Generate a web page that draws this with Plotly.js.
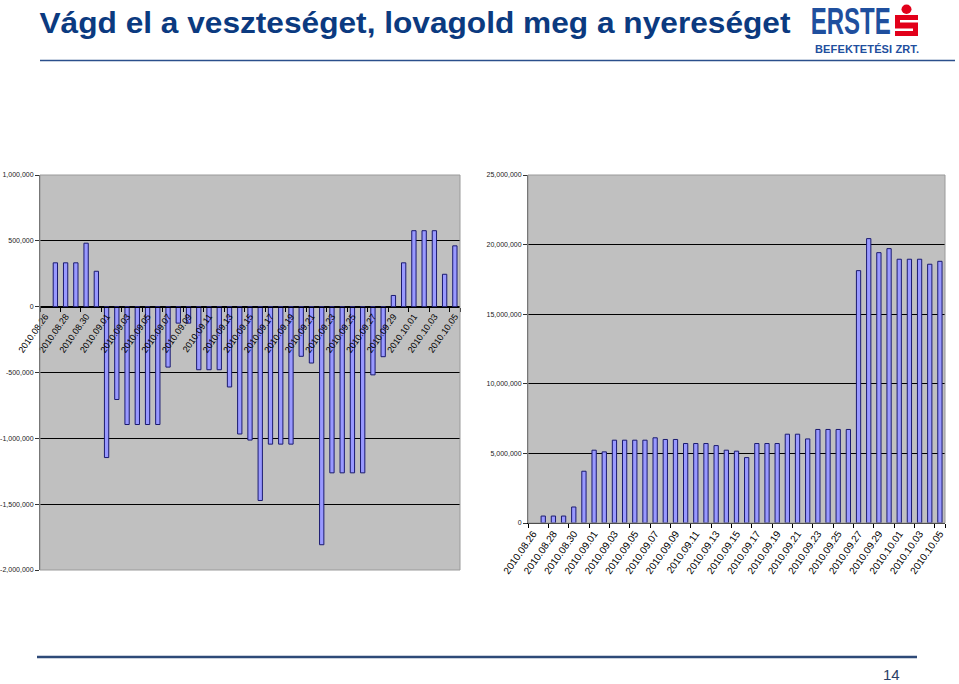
<!DOCTYPE html>
<html>
<head>
<meta charset="utf-8">
<script src="https://cdn.plot.ly/plotly-3.0.1.min.js"></script>
<style>
  html, body { margin: 0; padding: 0; background: #ffffff; }
  #chart { width: 959px; height: 684px; }
</style>
</head>
<body>
<div id="chart"></div>
<script>
// ---------- data ----------
const dates = [
  '2010.08.26','2010.08.27','2010.08.28','2010.08.29','2010.08.30','2010.08.31',
  '2010.09.01','2010.09.02','2010.09.03','2010.09.04','2010.09.05','2010.09.06',
  '2010.09.07','2010.09.08','2010.09.09','2010.09.10','2010.09.11','2010.09.12',
  '2010.09.13','2010.09.14','2010.09.15','2010.09.16','2010.09.17','2010.09.18',
  '2010.09.19','2010.09.20','2010.09.21','2010.09.22','2010.09.23','2010.09.24',
  '2010.09.25','2010.09.26','2010.09.27','2010.09.28','2010.09.29','2010.09.30',
  '2010.10.01','2010.10.02','2010.10.03','2010.10.04','2010.10.05'
];

const tickLabels = [
  '2010.08.26','2010.08.28','2010.08.30','2010.09.01','2010.09.03','2010.09.05',
  '2010.09.07','2010.09.09','2010.09.11','2010.09.13','2010.09.15','2010.09.17',
  '2010.09.19','2010.09.21','2010.09.23','2010.09.25','2010.09.27','2010.09.29',
  '2010.10.01','2010.10.03','2010.10.05'
];

// daily result (left chart)
const dailyResult = [
  null, 333000, 333000, 333000, 482000, 269000,
  -1146000, -705000, -895000, -895000, -895000, -895000,
  -459000, -125000, -125000, -479000, -479000, -479000,
  -610000, -967000, -1013000, -1472000, -1044000, -1044000,
  -1044000, -377000, -428000, -1808000, -1262000, -1262000,
  -1262000, -1262000, -518000, -380000, 85000, 333000,
  577000, 577000, 577000, 246000, 462000
];

// position value (right chart)
const positionValue = [
  null, 500000, 500000, 500000, 1150000, 3720000,
  5230000, 5110000, 5950000, 5950000, 5950000, 5950000,
  6120000, 6000000, 6000000, 5710000, 5710000, 5710000,
  5560000, 5230000, 5160000, 4700000, 5710000, 5710000,
  5710000, 6380000, 6380000, 6040000, 6720000, 6720000,
  6720000, 6720000, 18130000, 20430000, 19420000, 19710000,
  18950000, 18950000, 18950000, 18590000, 18800000
];

const leftTickVals = [1000000, 500000, 0, -500000, -1000000, -1500000, -2000000];
const leftTickText = ['1,000,000', '500,000', '0', '-500,000', '-1,000,000', '-1,500,000', '-2,000,000'];
const rightTickVals = [0, 5000000, 10000000, 15000000, 20000000, 25000000];
const rightTickText = ['0', '5,000,000', '10,000,000', '15,000,000', '20,000,000', '25,000,000'];

const titleText = 'Vágd el a veszteséget, lovagold meg a nyereséget';
const logoText = 'ERSTE';
const logoSubText = 'BEFEKTETÉSI ZRT.';
const pageNumber = '14';

// ---------- layout helpers ----------
const W = 959, H = 684;
const X = px => px / W;
const Y = py => 1 - py / H;

const FONT = 'Liberation Sans, Arial, Helvetica, sans-serif';
const BAR_FILL = '#9999FF';
const BAR_LINE = '#1A1A70';

const lDom = { x: [X(40), X(460)], y: [Y(570), Y(175)] };
const rDom = { x: [X(528), X(945)], y: [Y(523), Y(175)] };
const lRange = [-2000000, 1000000];
const zeroPos = lDom.y[0] + (0 - lRange[0]) / (lRange[1] - lRange[0]) * (lDom.y[1] - lDom.y[0]);

const traces = [
  {
    type: 'bar', x: dates, y: dailyResult, xaxis: 'x', yaxis: 'y',
    marker: { color: BAR_FILL, line: { color: BAR_LINE, width: 1 } },
    hoverinfo: 'skip'
  },
  {
    type: 'bar', x: dates, y: positionValue, xaxis: 'x2', yaxis: 'y2',
    marker: { color: BAR_FILL, line: { color: BAR_LINE, width: 1 } },
    hoverinfo: 'skip'
  }
];

const xCommon = {
  type: 'category',
  categoryorder: 'array',
  categoryarray: dates,
  range: [-0.5, dates.length - 0.5],
  tickmode: 'array',
  tickvals: tickLabels,
  ticktext: tickLabels,
  tickangle: -55,
  tickson: 'boundaries',
  ticks: 'outside',
  ticklen: 4,
  tickcolor: '#000',
  tickwidth: 1,
  showline: true,
  linecolor: '#000',
  linewidth: 1,
  showgrid: false,
  zeroline: false,
  fixedrange: true
};

const yCommon = {
  tickmode: 'array',
  ticks: 'outside',
  ticklen: 4,
  tickcolor: '#333',
  showline: true,
  linecolor: '#555',
  linewidth: 1,
  showgrid: true,
  gridcolor: '#000',
  gridwidth: 1,
  tickfont: { family: FONT, size: 7, color: '#222' },
  fixedrange: true
};

const layout = {
  width: W, height: H,
  margin: { l: 0, r: 0, t: 0, b: 0, pad: 0 },
  paper_bgcolor: '#ffffff',
  plot_bgcolor: '#C0C0C0',
  showlegend: false,
  bargap: 0.58,
  font: { family: FONT },
  xaxis: Object.assign({}, xCommon, {
    domain: lDom.x, anchor: 'free', position: zeroPos,
    tickfont: { family: FONT, size: 9, color: '#000' }
  }),
  yaxis: Object.assign({}, yCommon, {
    domain: lDom.y, anchor: 'x', range: lRange,
    tickvals: leftTickVals, ticktext: leftTickText,
    zeroline: true, zerolinecolor: '#000', zerolinewidth: 1
  }),
  xaxis2: Object.assign({}, xCommon, {
    domain: rDom.x, anchor: 'y2',
    tickfont: { family: FONT, size: 10, color: '#000' }
  }),
  yaxis2: Object.assign({}, yCommon, {
    domain: rDom.y, anchor: 'x2', range: [0, 25000000],
    tickvals: rightTickVals, ticktext: rightTickText,
    zeroline: false
  }),
  shapes: [
    { type: 'rect', xref: 'paper', yref: 'paper', x0: lDom.x[0], x1: lDom.x[1], y0: lDom.y[0], y1: lDom.y[1],
      line: { color: '#9A9A9A', width: 1 }, layer: 'above' },
    { type: 'rect', xref: 'paper', yref: 'paper', x0: rDom.x[0], x1: rDom.x[1], y0: rDom.y[0], y1: rDom.y[1],
      line: { color: '#9A9A9A', width: 1 }, layer: 'above' },
    // header rule
    { type: 'line', xref: 'paper', yref: 'paper', x0: X(40), x1: X(955), y0: Y(60.5), y1: Y(60.5),
      line: { color: '#2B4F8C', width: 1.5 } },
    // footer rule
    { type: 'line', xref: 'paper', yref: 'paper', x0: X(37), x1: X(917), y0: Y(657), y1: Y(657),
      line: { color: '#2E4A78', width: 2.5 } },
    // Erste logo: red dot + red square with white S stripes
    { type: 'circle', xref: 'paper', yref: 'paper', x0: X(901.5), x1: X(911.5), y0: Y(14), y1: Y(4.5),
      fillcolor: '#E2001A', line: { width: 0 } },
    { type: 'rect', xref: 'paper', yref: 'paper', x0: X(895), x1: X(918), y0: Y(36), y1: Y(15),
      fillcolor: '#E2001A', line: { width: 0 } },
    { type: 'rect', xref: 'paper', yref: 'paper', x0: X(900), x1: X(918), y0: Y(22.5), y1: Y(20),
      fillcolor: '#ffffff', line: { width: 0 } },
    { type: 'rect', xref: 'paper', yref: 'paper', x0: X(895), x1: X(913), y0: Y(31), y1: Y(28.5),
      fillcolor: '#ffffff', line: { width: 0 } }
  ],
  annotations: [
    { text: '<b>' + titleText + '</b>', xref: 'paper', yref: 'paper', x: X(414.5), y: Y(22.5),
      xanchor: 'center', yanchor: 'middle', showarrow: false, borderpad: 0,
      font: { family: FONT, size: 30, color: '#0B3A80' } },
    { text: '<b>' + logoText + '</b>', xref: 'paper', yref: 'paper', x: X(850), y: Y(21.5),
      xanchor: 'center', yanchor: 'middle', showarrow: false, borderpad: 0,
      font: { family: FONT, size: 37, color: '#1F4F9E' } },
    { text: '<b>' + logoSubText + '</b>', xref: 'paper', yref: 'paper', x: X(866.5), y: Y(48.5),
      xanchor: 'center', yanchor: 'middle', showarrow: false, borderpad: 0,
      font: { family: FONT, size: 11, color: '#1F4F9E' } },
    { text: pageNumber, xref: 'paper', yref: 'paper', x: X(902), y: Y(685),
      xanchor: 'right', yanchor: 'bottom', showarrow: false,
      font: { family: FONT, size: 15, color: '#2A3F66' } }
  ]
};

// target widths for the header texts (fitted to the slide)
const textFits = [
  { index: 0, width: 751, adjust: 'spacingAndGlyphs' },
  { index: 1, width: 80, adjust: 'spacingAndGlyphs' },
  { index: 2, width: 104, adjust: 'spacing' }
];

Plotly.newPlot('chart', traces, layout, { staticPlot: true, displayModeBar: false }).then(gd => {
  textFits.forEach(f => {
    const g = gd.querySelector('.annotation[data-index="' + f.index + '"] text.annotation-text');
    if (g) {
      g.setAttribute('textLength', f.width);
      g.setAttribute('lengthAdjust', f.adjust);
    }
  });
});
</script>
</body>
</html>
